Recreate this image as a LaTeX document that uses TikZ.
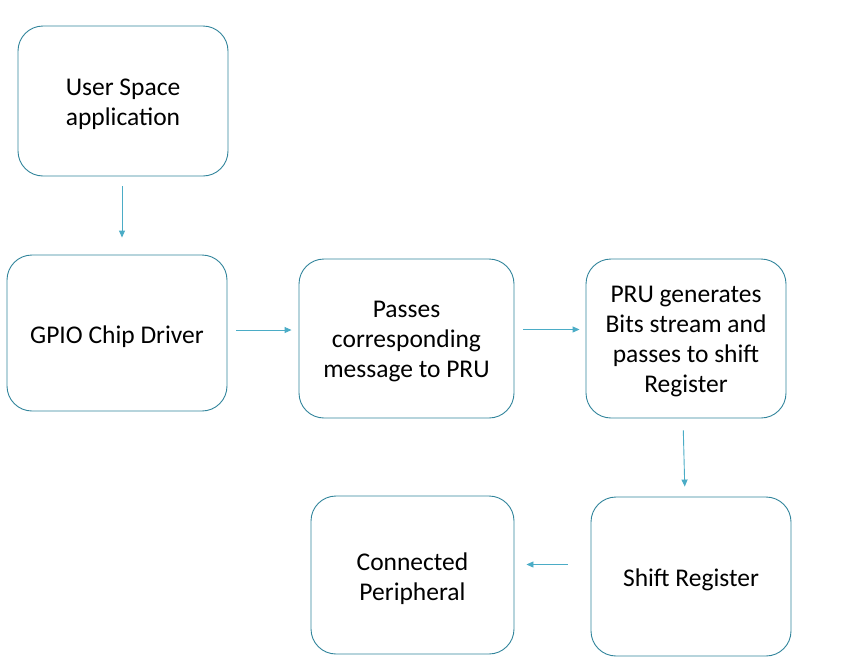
\documentclass[tikz,border=0pt]{standalone}
\usepackage{fontspec}
\setmainfont{Carlito}
\usetikzlibrary{arrows.meta}
\definecolor{boxline}{HTML}{31849B}
\definecolor{arrowc}{HTML}{4BACC6}
\begin{document}
\begin{tikzpicture}[x=1pt,y=-1pt,
  box/.style={draw=boxline, line width=0.9pt, rounded corners=25pt, inner sep=0pt},
  txt/.style={font=\fontsize{25.5}{30}\selectfont, align=center, yshift=-3.5pt, inner sep=0pt},
  conn/.style={draw=arrowc, line width=0.9pt, -{Triangle[length=7pt,width=6pt]}}]
\useasboundingbox (0,0) rectangle (863,662);
\node[box, minimum width=210pt, minimum height=150pt, label={[txt]center:{User Space\\application}}] (u) at (123,101) {};
\node[box, minimum width=220pt, minimum height=156pt, label={[txt]center:{GPIO Chip Driver}}] (g) at (117,333) {};
\node[box, minimum width=215pt, minimum height=159pt, label={[txt]center:{Passes\\corresponding\\message to PRU}}] (p) at (406.5,338.5) {};
\node[box, minimum width=200pt, minimum height=159pt, label={[txt]center:{PRU generates\\Bits stream and\\passes to shift\\Register}}] (r) at (686,338.5) {};
\node[box, minimum width=200pt, minimum height=159pt, label={[txt]center:{Shift Register}}] (s) at (691,576.5) {};
\node[box, minimum width=203pt, minimum height=158pt, label={[txt]center:{Connected\\Peripheral}}] (c) at (412.5,575) {};
\draw[conn, shorten <=10pt, shorten >=17pt] ([xshift=-1pt]u.south) -- ([xshift=-1pt]u.south |- g.north);
\draw[conn, shorten <=9pt, shorten >=7pt] ([yshift=3pt]g.east) -- ([yshift=3pt]g.east -| p.west);
\draw[conn, shorten <=9pt, shorten >=6pt] ([yshift=9pt]p.east) -- ([yshift=9pt]p.east -| r.west);
\draw[conn, shorten <=12pt, shorten >=10pt] ([xshift=-3pt]r.south) -- ([xshift=-6pt]s.north);
\draw[conn, shorten <=23pt, shorten >=12pt] ([yshift=12pt]s.west) -- ([yshift=12pt]s.west -| c.east);
\end{tikzpicture}
\end{document}
